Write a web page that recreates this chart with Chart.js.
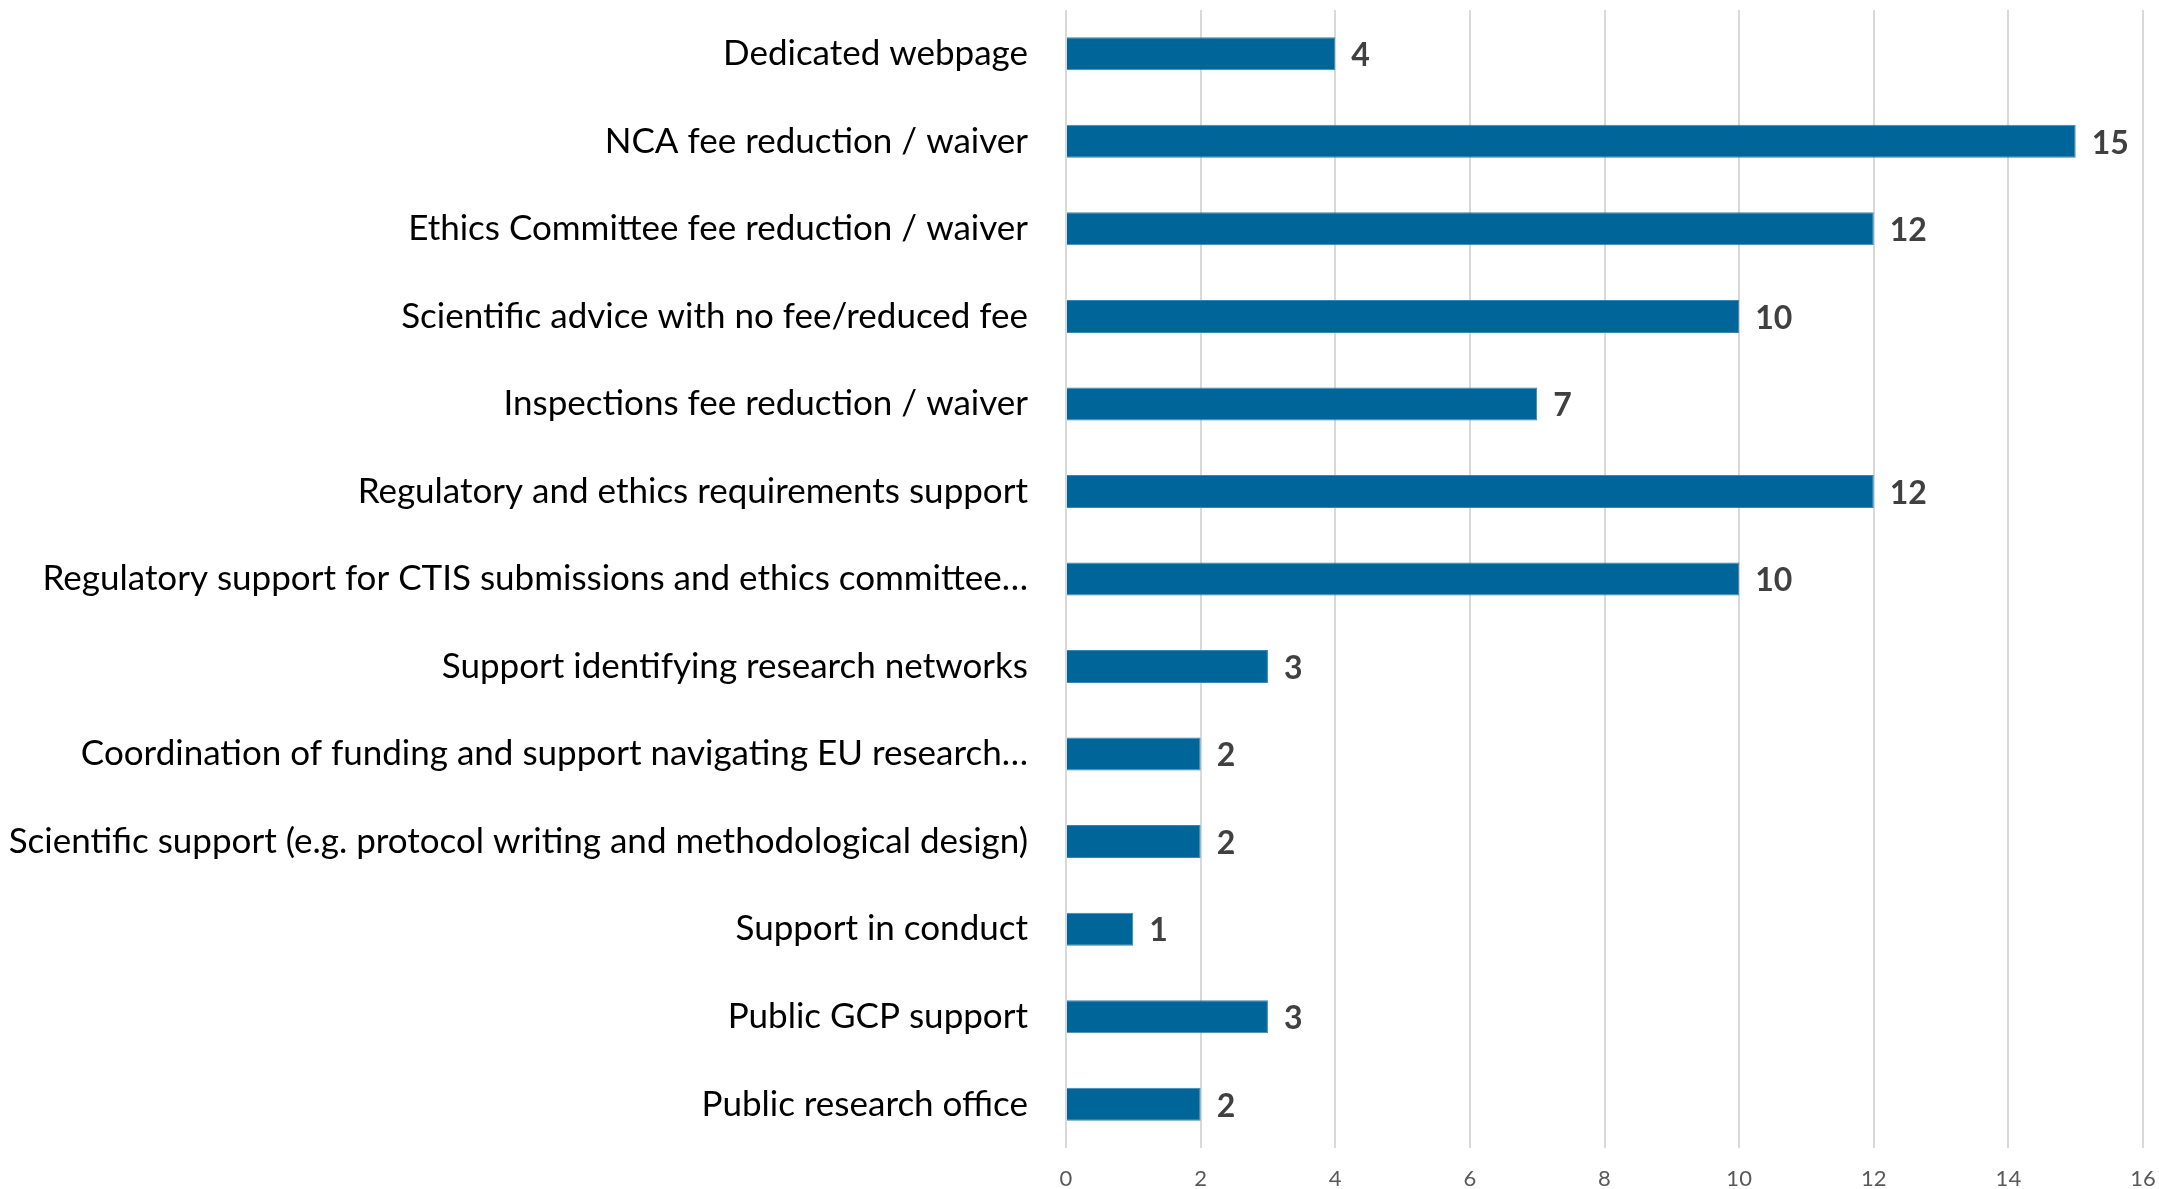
<!DOCTYPE html>
<html>
<head>
<meta charset="utf-8">
<script src="https://cdn.jsdelivr.net/npm/chart.js@4"></script>
<style>
  html, body { margin: 0; padding: 0; background: #ffffff; }
  #wrap { width: 2159px; height: 1189px; position: relative; }
</style>
</head>
<body>
<div id="wrap"><canvas id="chart-bars-hor"></canvas></div>
<script>
// data
const categories = [
    'Dedicated webpage',
    'NCA fee reduction / waiver',
    'Ethics Committee fee reduction / waiver',
    'Scientific advice with no fee/reduced fee',
    'Inspections fee reduction / waiver',
    'Regulatory and ethics requirements support',
    'Regulatory support for CTIS submissions and ethics committee…',
    'Support identifying research networks',
    'Coordination of funding and support navigating EU research…',
    'Scientific support (e.g. protocol writing and methodological design)',
    'Support in conduct',
    'Public GCP support',
    'Public research office'
];
const counts = [4, 15, 12, 10, 7, 12, 10, 3, 2, 2, 1, 3, 2];
const xTicks = [0, 2, 4, 6, 8, 10, 12, 14, 16];

const labelFont = 'Lato, "Open Sans", sans-serif';

// value labels at the end of each bar
const barValues = {
    id: 'barValues',
    afterDatasetsDraw(chart) {
        const ctx = chart.ctx;
        const meta = chart.getDatasetMeta(0);
        ctx.save();
        ctx.font = 'bold 32px ' + labelFont;
        ctx.fillStyle = '#404040';
        ctx.textAlign = 'left';
        ctx.textBaseline = 'middle';
        meta.data.forEach((bar, i) => {
            ctx.fillText(String(counts[i]), bar.x + 16, bar.y + 2);
        });
        ctx.restore();
    }
};

const data = {
    labels: categories,
    datasets: [{
        label: 'Count',
        data: counts,
        backgroundColor: '#006699',
        borderColor: '#3a86b0',
        borderWidth: 1,
        categoryPercentage: 1,
        barPercentage: 0.377
    }]
};

const config = {
    type: 'bar',
    data,
    options: {
        indexAxis: 'y',
        responsive: true,
        maintainAspectRatio: false,
        animation: false,
        layout: { padding: { top: 10, right: 16, bottom: 0, left: 0 } },
        plugins: {
            legend: { display: false },
            tooltip: { enabled: false }
        },
        scales: {
            y: {
                grid: { display: false },
                border: { display: false },
                ticks: {
                    color: '#000000',
                    padding: 30,
                    font: { family: labelFont, size: 35 }
                },
                afterFit(scale) {
                    scale.width = 1066;
                    scale.paddingTop = 0;
                    scale.paddingBottom = 0;
                }
            },
            x: {
                min: 0,
                max: 16,
                afterBuildTicks(scale) { scale.ticks = xTicks.map(v => ({ value: v })); },
                grid: { color: '#d9d9d9', lineWidth: 2, drawTicks: false },
                border: { display: false },
                ticks: {
                    color: '#595959',
                    padding: 18,
                    font: { family: labelFont, size: 22 }
                },
                afterFit(scale) {
                    scale.height = 41;
                    scale.paddingLeft = 0;
                    scale.paddingRight = 0;
                }
            }
        }
    },
    plugins: [barValues]
};

const myChart = new Chart(
    document.getElementById('chart-bars-hor'),
    config
);
</script>
</body>
</html>
